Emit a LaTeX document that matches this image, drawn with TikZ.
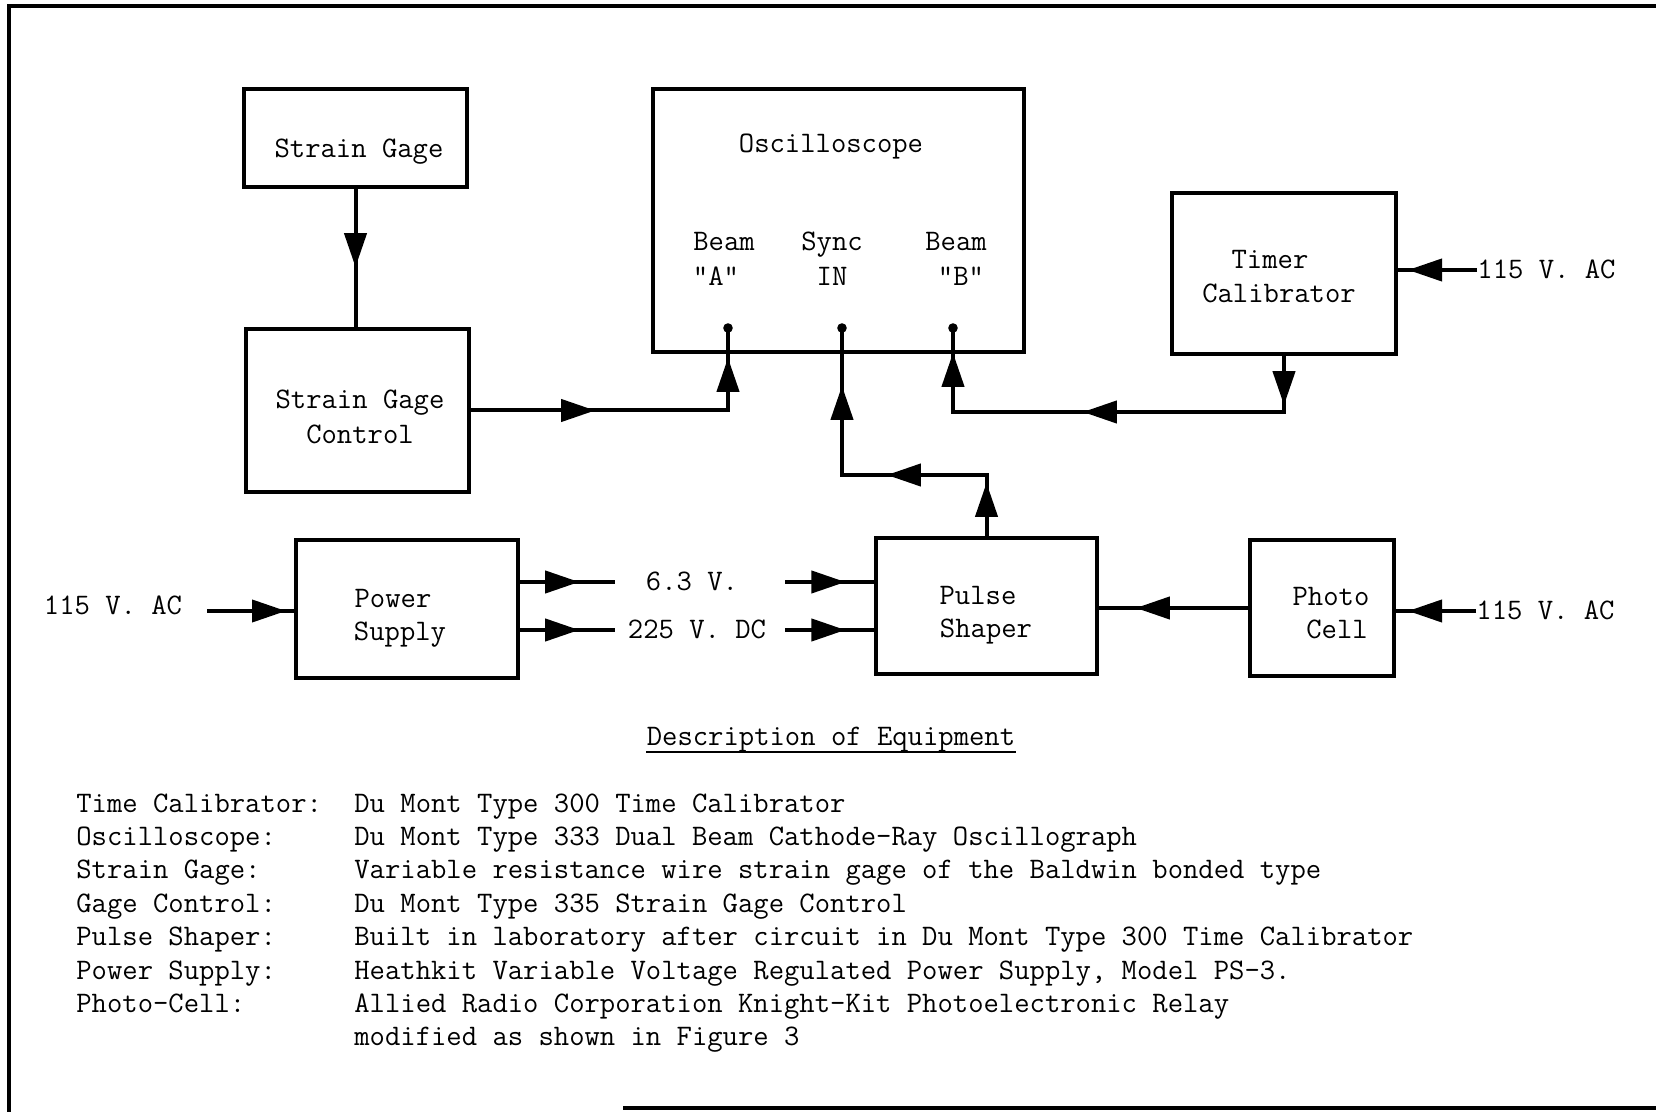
\documentclass[tikz,border=0pt]{standalone}
\usetikzlibrary{arrows.meta,decorations.markings,calc}
\newcommand{\lbfont}{\ttfamily\fontsize{14.9}{17}\selectfont}
\tikzset{
  bigtri/.tip={Triangle[length=17pt,width=11pt]},
  box/.style={draw,line width=2.2pt,inner sep=0pt},
  conn/.style={line width=2pt},
  tipat/.style={postaction={decorate,decoration={markings,mark=at position #1 with {\arrow{bigtri}}}}},
  txt/.style={font=\lbfont,inner sep=0pt,text height=9pt,text depth=0pt},
}
\begin{document}
\begin{tikzpicture}[x=0.5pt,y=-0.5pt]
\useasboundingbox (0,0) rectangle (1656,1112);
% frame
\draw[line width=2.2pt] (7,6) -- (1656,6);
\draw[line width=1.6pt] (9,6) -- (9,1112);
\draw[line width=2.2pt] (623,1108) -- (1656,1108);

% boxes
\node[box,minimum width=111.5pt,minimum height=49pt] (sg) at (355.5,138) {};
\node[box,minimum width=111.5pt,minimum height=81.5pt] (sgc) at (357.5,410.5) {};
\node[box,minimum width=185.5pt,minimum height=131.5pt] (osc) at (838.5,220.5) {};
\node[box,minimum width=112pt,minimum height=80.5pt] (tc) at (1284,273.5) {};
\node[box,minimum width=111pt,minimum height=69pt] (ps) at (407,609) {};
\node[box,minimum width=110.5pt,minimum height=68pt] (pul) at (986.5,606) {};
\node[box,minimum width=72pt,minimum height=68pt] (pc) at (1322,608) {};

% box texts
\node[txt] (tsg) at (359,149) {Strain Gage};
\node[txt] (tsgc1) at (360,400) {Strain Gage};
\node[txt] (tsgc2) at (360,435) {Control};
\node[txt] (tosc) at (831,144) {Oscilloscope};
\node[txt] (tbA1) at (724,242) {Beam};
\node[txt] (tbA2) at (716,277) {"A"};
\node[txt] (tsy1) at (832,242) {Sync};
\node[txt] (tsy2) at (832,277) {IN};
\node[txt] (tbB1) at (956,242) {Beam};
\node[txt] (tbB2) at (961,277) {"B"};
\node[txt] (ttc1) at (1270,260) {Timer};
\node[txt] (ttc2) at (1279,294) {Calibrator};
\node[txt] (tps1) at (393,599) {Power};
\node[txt] (tps2) at (400,631) {Supply};
\node[txt] (tpu1) at (978,596) {Pulse};
\node[txt] (tpu2) at (986,629) {Shaper};
\node[txt] (tpc1) at (1331,597) {Photo};
\node[txt] (tpc2) at (1337,630) {Cell};

% outside labels
\node[txt,anchor=west] (acT) at (1477,270) {115 V. AC};
\node[txt,anchor=west] (acP) at (1476,611) {115 V. AC};
\node[txt] (acL) at (113,606) {115 V. AC};
\node[txt] (v63) at (692,582) {6.3 V.};
\node[txt] (v225) at (697,630) {225 V. DC};

% pins
\coordinate (pA) at (728,328);
\coordinate (pS) at (842,328);
\coordinate (pB) at (953,328);
\coordinate (sc) at (842,475);
\coordinate (bc) at (953,412);
\coordinate (inL) at (207,611);

% connectors
\draw[conn,tipat=39pt] (sg.south) -- (sg.south |- sgc.north);
\draw[conn,tipat=62pt,tipat=154.75pt] (sgc.east) -| (pA);
\draw[conn,tipat=26.5pt,tipat=80.25pt,tipat=147.25pt] (pul.north) |- (sc) -- (pS);
\draw[conn,tipat=24.5pt,tipat=128.5pt,tipat=223pt] (tc.south) |- (bc) -- (pB);
\draw[conn,tipat=34.5pt] (acT.west) -- (acT.west -| tc.east);
\draw[conn,tipat=34pt] (acP.west) -- (acP.west -| pc.east);
\draw[conn,tipat=56pt] (pc.west) -- (pc.west -| pul.east);
\draw[conn,tipat=39.5pt] (inL) -- (inL -| ps.west);
\draw[conn,tipat=29.5pt] (ps.east |- v63) -- ([xshift=-15.5pt]v63.west);
\draw[conn,tipat=30pt] ([xshift=23.5pt]v63.east) -- (pul.west |- v63);
\draw[conn,tipat=29.5pt] (ps.east |- v225) -- ([xshift=-6.5pt]v225.west);
\draw[conn,tipat=30pt] ([xshift=9.5pt]v225.east) -- (pul.west |- v225);
\foreach \p in {pA,pS,pB} \fill (\p) circle (2.4pt);

% description
\node[txt] (head) at (831,736) {Description of Equipment};
\draw[line width=1.4pt] ([yshift=-3.5pt]head.base west) -- ([yshift=-3.5pt]head.base east);

\node[txt,anchor=west] (k1) at (76,803) {Time Calibrator:};
\node[txt,anchor=west] (k2) at (76,836.4) {Oscilloscope:};
\node[txt,anchor=west] (k3) at (76,869.8) {Strain Gage:};
\node[txt,anchor=west] (k4) at (76,903.2) {Gage Control:};
\node[txt,anchor=west] (k5) at (76,936.6) {Pulse Shaper:};
\node[txt,anchor=west] (k6) at (76,970) {Power Supply:};
\node[txt,anchor=west] (k7) at (76,1003.4) {Photo-Cell:};

\node[txt,anchor=west] (d1) at (354,803) {Du Mont Type 300 Time Calibrator};
\node[txt,anchor=west] (d2) at (354,836.4) {Du Mont Type 333 Dual Beam Cathode-Ray Oscillograph};
\node[txt,anchor=west] (d3) at (354,869.8) {Variable resistance wire strain gage of the Baldwin bonded type};
\node[txt,anchor=west] (d4) at (354,903.2) {Du Mont Type 335 Strain Gage Control};
\node[txt,anchor=west] (d5) at (354,936.6) {Built in laboratory after circuit in Du Mont Type 300 Time Calibrator};
\node[txt,anchor=west] (d6) at (354,970) {Heathkit Variable Voltage Regulated Power Supply, Model PS-3.};
\node[txt,anchor=west] (d7) at (354,1003.4) {Allied Radio Corporation Knight-Kit Photoelectronic Relay};
\node[txt,anchor=west] (d8) at (354,1036.8) {modified as shown in Figure 3};
\end{tikzpicture}
\end{document}
